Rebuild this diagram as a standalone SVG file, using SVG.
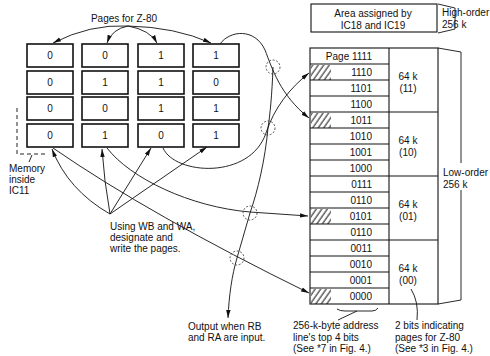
<svg xmlns="http://www.w3.org/2000/svg" width="490" height="356" viewBox="0 0 490 356">
<style>
text{font-family:"Liberation Sans",Arial,sans-serif;font-size:10px;fill:#111}
.c{text-anchor:middle}
.e{text-anchor:end}
.box{fill:#fff;stroke:#111;stroke-width:1.6}
.ln{fill:none;stroke:#111;stroke-width:0.9}
.th{fill:none;stroke:#111;stroke-width:1.1}
.dc{fill:none;stroke:#333;stroke-width:0.8;stroke-dasharray:2,1.6}
.dash{fill:none;stroke:#222;stroke-width:1;stroke-dasharray:4,3}
.arr{fill:none;stroke:#111;stroke-width:0.9;marker-end:url(#ah)}
</style>
<defs>
<marker id="ah" viewBox="0 0 8 6" refX="8" refY="3" markerWidth="8" markerHeight="6" markerUnits="userSpaceOnUse" orient="auto">
<path d="M0,0.8 L8,3 L0,5.2 z" fill="#111"/>
</marker>
<pattern id="hatch" width="4.5" height="10" patternUnits="userSpaceOnUse" patternTransform="rotate(35)">
<line x1="1" y1="0" x2="1" y2="10" stroke="#111" stroke-width="1"/>
</pattern>
</defs>

<g id="title">
<text class="c" x="124" y="22">Pages for Z-80</text>
</g>

<g id="grid">
<g id="col1">
<rect class="box" x="27" y="44" width="46" height="23"/><text class="c" x="50" y="59">0</text>
<rect class="box" x="27" y="71" width="46" height="23"/><text class="c" x="50" y="86">0</text>
<rect class="box" x="27" y="97" width="46" height="23"/><text class="c" x="50" y="112">0</text>
<rect class="box" x="27" y="124" width="46" height="23"/><text class="c" x="50" y="139">0</text>
</g>
<g id="col2">
<rect class="box" x="82" y="44" width="46" height="23"/><text class="c" x="105" y="59">0</text>
<rect class="box" x="82" y="71" width="46" height="23"/><text class="c" x="105" y="86">1</text>
<rect class="box" x="82" y="97" width="46" height="23"/><text class="c" x="105" y="112">0</text>
<rect class="box" x="82" y="124" width="46" height="23"/><text class="c" x="105" y="139">1</text>
</g>
<g id="col3">
<rect class="box" x="138" y="44" width="46" height="23"/><text class="c" x="161" y="59">1</text>
<rect class="box" x="138" y="71" width="46" height="23"/><text class="c" x="161" y="86">1</text>
<rect class="box" x="138" y="97" width="46" height="23"/><text class="c" x="161" y="112">1</text>
<rect class="box" x="138" y="124" width="46" height="23"/><text class="c" x="161" y="139">0</text>
</g>
<g id="col4">
<rect class="box" x="193" y="44" width="46" height="23"/><text class="c" x="216" y="59">1</text>
<rect class="box" x="193" y="71" width="46" height="23"/><text class="c" x="216" y="86">0</text>
<rect class="box" x="193" y="97" width="46" height="23"/><text class="c" x="216" y="112">1</text>
<rect class="box" x="193" y="124" width="46" height="23"/><text class="c" x="216" y="139">1</text>
</g>
</g>

<g id="memory-label">
<path class="dash" d="M17,108 L17,154 L48,154"/>
<path class="ln" d="M32,155 L29,162"/>
<text x="9" y="172">Memory</text>
<text x="9" y="183">inside</text>
<text x="9" y="194">IC11</text>
</g>

<g id="using-label">
<text x="110" y="230">Using WB and WA,</text>
<text x="110" y="241">designate and</text>
<text x="110" y="252">write the pages.</text>
</g>

<g id="high-area">
<rect class="th" x="311" y="4" width="126" height="28"/>
<text class="c" x="373" y="17">Area assigned by</text>
<text class="c" x="373" y="29">IC18 and IC19</text>
<path class="ln" d="M438,4 L455,8 L455,29 L438,33"/>
<text x="442" y="16">High-order</text>
<text x="442" y="28">256 k</text>
</g>

<g id="memory-map">
<rect class="th" x="310" y="48" width="128" height="256"/>
<line class="th" x1="389" y1="48" x2="389" y2="304"/>
<g fill="url(#hatch)">
<rect x="311" y="65" width="20" height="15"/>
<rect x="311" y="113" width="20" height="15"/>
<rect x="311" y="209" width="20" height="15"/>
<rect x="311" y="289" width="20" height="15"/>
</g>
<path class="th" d="M310,64H389M310,80H389M310,96H389M310,112H438M310,128H389M310,144H389M310,160H389M310,176H438M310,192H389M310,208H389M310,224H389M310,240H438M310,256H389M310,272H389M310,288H389"/>
<text class="e" x="372" y="60">Page 1111</text>
<text class="e" x="372" y="76">1110</text>
<text class="e" x="372" y="92">1101</text>
<text class="e" x="372" y="108">1100</text>
<text class="e" x="372" y="124">1011</text>
<text class="e" x="372" y="140">1010</text>
<text class="e" x="372" y="156">1001</text>
<text class="e" x="372" y="172">1000</text>
<text class="e" x="372" y="188">0111</text>
<text class="e" x="372" y="204">0110</text>
<text class="e" x="372" y="220">0101</text>
<text class="e" x="372" y="236">0110</text>
<text class="e" x="372" y="252">0011</text>
<text class="e" x="372" y="268">0010</text>
<text class="e" x="372" y="284">0001</text>
<text class="e" x="372" y="300">0000</text>
<text class="c" x="408" y="80">64 k</text>
<text class="c" x="408" y="92">(11)</text>
<text class="c" x="408" y="144">64 k</text>
<text class="c" x="408" y="156">(10)</text>
<text class="c" x="408" y="208">64 k</text>
<text class="c" x="408" y="220">(01)</text>
<text class="c" x="408" y="272">64 k</text>
<text class="c" x="408" y="284">(00)</text>
<path class="ln" d="M438,48 L461,52 L461,163 M461,190 L461,300 L438,304"/>
<text x="443" y="176">Low-order</text>
<text x="443" y="188">256 k</text>
</g>

<g id="bottom-labels">
<text x="188" y="330">Output when RB</text>
<text x="188" y="341">and RA are input.</text>
<text x="293" y="329">256-k-byte address</text>
<text x="293" y="341">line's top 4 bits</text>
<text x="293" y="352">(See *7 in Fig. 4.)</text>
<text x="395" y="329">2 bits indicating</text>
<text x="395" y="341">pages for Z-80</text>
<text x="395" y="352">(See *3 in Fig. 4.)</text>
</g>

<g id="connectors">
<path class="arr" d="M128,26 Q90,24 53,43"/>
<path class="arr" d="M128,26 Q112,29 107,43"/>
<path class="arr" d="M128,26 Q150,30 157,43"/>
<path class="arr" d="M128,26 Q175,27 211,43"/>

<path class="arr" d="M110,214 Q68,190 52,149"/>
<path class="arr" d="M110,214 Q104,180 102,149"/>
<path class="arr" d="M110,214 L151,148"/>
<path class="arr" d="M110,214 L207,147"/>

<path class="arr" d="M220,44 C230,30 255,28 265,50 C272,68 280,95 309,118"/>
<path class="arr" d="M163,148 C175,175 250,180 266,133 C274,108 290,88 309,73"/>
<path class="arr" d="M107,148 C130,178 190,207 250,212 L308,216"/>
<path class="arr" d="M53,148 Q150,215 309,293"/>
<path class="arr" d="M273,67 C272,95 270,115 268,128 C265,160 258,190 250,213 L237,258 C232,275 229,295 228,318"/>

<circle class="dc" cx="273" cy="67" r="7"/>
<circle class="dc" cx="268" cy="128" r="7"/>
<circle class="dc" cx="250" cy="213" r="7"/>
<circle class="dc" cx="237" cy="258" r="7"/>

<path class="ln" d="M337,309 Q340,311 345,311 L372,311 Q376,311 378,308"/>
<path class="ln" d="M338,320 L357,311"/>
<path class="ln" d="M417,320 Q419,302 411,289"/>
</g>
</svg>
